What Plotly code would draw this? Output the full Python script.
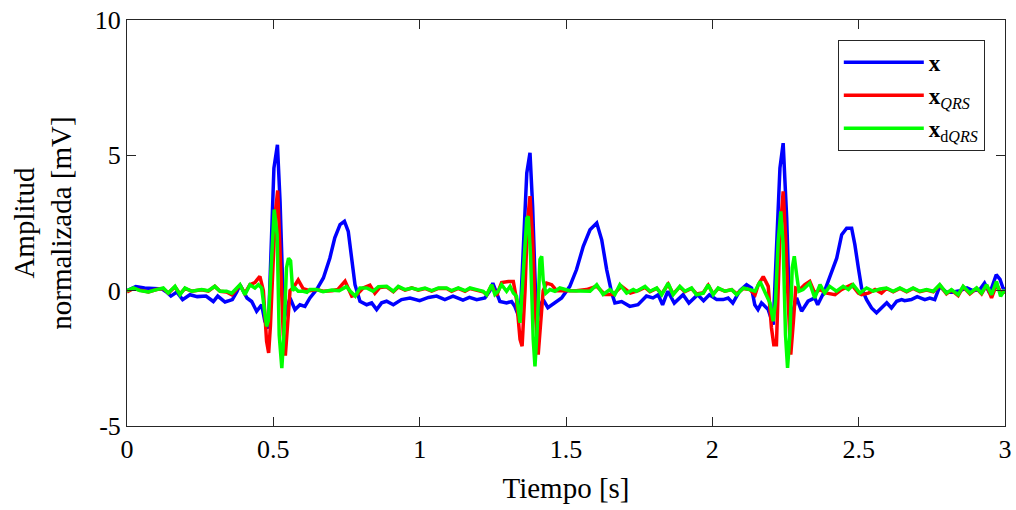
import plotly.graph_objects as go

# señales: (tiempo [s], amplitud [mV])
x_pts = [
    (0.00, 0.00), (0.03, 0.15), (0.06, 0.10), (0.09, 0.08), (0.12, 0.06), (0.135, -0.05),
    (0.15, -0.20), (0.17, -0.05), (0.19, -0.33), (0.215, -0.15), (0.24, -0.22), (0.27, -0.20),
    (0.295, -0.40), (0.31, -0.20), (0.335, -0.42), (0.36, -0.33), (0.375, -0.05), (0.386, 0.22),
    (0.40, -0.05), (0.41, -0.27), (0.426, -0.40), (0.443, -0.76), (0.46, -0.52), (0.471, -1.13),
    (0.483, -1.40), (0.494, 2.07), (0.502, 4.53), (0.514, 5.39), (0.523, 3.30), (0.532, 0.22),
    (0.538, -1.00), (0.548, -0.60), (0.557, -0.27), (0.574, -0.70), (0.591, -0.52), (0.608, -0.58),
    (0.625, -0.27), (0.648, 0.04), (0.671, 0.47), (0.693, 1.20), (0.71, 1.95), (0.728, 2.44),
    (0.743, 2.56), (0.756, 2.19), (0.768, 1.08), (0.779, 0.22), (0.796, -0.39), (0.819, -0.52),
    (0.836, -0.45), (0.853, -0.70), (0.87, -0.45), (0.887, -0.39), (0.91, -0.52), (0.927, -0.39),
    (0.938, -0.33), (0.967, -0.27), (1.00, -0.37), (1.03, -0.25), (1.058, -0.20), (1.086, -0.33),
    (1.114, -0.20), (1.148, -0.35), (1.17, -0.25), (1.195, -0.33), (1.223, -0.27), (1.24, 0.00),
    (1.25, 0.28), (1.274, -0.40), (1.297, -0.45), (1.314, -0.40), (1.325, -0.58), (1.343, -1.07),
    (1.355, 1.50), (1.366, 4.35), (1.377, 5.09), (1.386, 3.10), (1.394, 0.50), (1.40, -1.20),
    (1.41, -0.60), (1.422, -0.33), (1.438, -0.63), (1.462, -0.45), (1.485, -0.27), (1.513, 0.16),
    (1.536, 0.78), (1.559, 1.64), (1.582, 2.25), (1.605, 2.50), (1.622, 1.88), (1.639, 0.78),
    (1.656, -0.08), (1.667, -0.45), (1.69, -0.40), (1.718, -0.58), (1.746, -0.52), (1.775, -0.20),
    (1.797, -0.27), (1.815, -0.15), (1.83, -0.52), (1.848, -0.02), (1.87, -0.46), (1.90, -0.15),
    (1.92, -0.46), (1.95, -0.15), (1.97, -0.37), (1.99, -0.15), (2.015, -0.33), (2.037, -0.33),
    (2.054, -0.27), (2.07, -0.46), (2.094, 0.00), (2.117, 0.22), (2.134, 0.10), (2.145, -0.52),
    (2.156, -0.70), (2.168, -0.45), (2.191, -0.70), (2.208, -1.26), (2.22, 1.60), (2.231, 4.53),
    (2.242, 5.45), (2.254, 2.70), (2.265, -1.13), (2.288, -0.27), (2.305, -0.76), (2.327, -0.39),
    (2.35, -0.27), (2.36, -0.52), (2.384, 0.00), (2.407, 0.71), (2.425, 1.20), (2.442, 2.07),
    (2.459, 2.31), (2.476, 2.31), (2.487, 1.70), (2.499, 0.84), (2.51, 0.10), (2.527, -0.33),
    (2.544, -0.64), (2.561, -0.82), (2.578, -0.64), (2.596, -0.45), (2.612, -0.64), (2.63, -0.39),
    (2.647, -0.33), (2.657, -0.37), (2.68, -0.33), (2.70, -0.22), (2.726, -0.33), (2.743, -0.27),
    (2.76, -0.33), (2.777, 0.16), (2.80, -0.06), (2.82, -0.06), (2.846, 0.00), (2.87, 0.10),
    (2.89, 0.00), (2.914, 0.04), (2.93, 0.28), (2.948, -0.10), (2.97, 0.59), (2.983, 0.42),
    (2.993, 0.10), (3.00, 0.05),
]

xqrs_pts = [
    (0.00, -0.05), (0.022, 0.08), (0.044, 0.02), (0.073, -0.05), (0.101, 0.04), (0.124, 0.08),
    (0.141, -0.09), (0.164, 0.14), (0.181, -0.12), (0.198, 0.08), (0.221, -0.02), (0.255, 0.03),
    (0.278, -0.02), (0.30, 0.16), (0.318, -0.02), (0.34, -0.05), (0.358, -0.15), (0.375, 0.06),
    (0.386, 0.20), (0.403, -0.10), (0.42, 0.22), (0.437, 0.30), (0.454, 0.53), (0.466, 0.00),
    (0.477, -1.87), (0.484, -2.30), (0.49, -1.30), (0.50, 1.20), (0.508, 3.00), (0.515, 3.70),
    (0.525, 0.84), (0.534, -1.63), (0.541, -2.40), (0.548, -1.37), (0.557, 0.00), (0.568, 0.10),
    (0.585, 0.40), (0.602, 0.07), (0.625, 0.00), (0.648, 0.04), (0.67, -0.02), (0.70, 0.00),
    (0.72, 0.04), (0.745, 0.35), (0.768, -0.20), (0.785, -0.15), (0.807, 0.10), (0.83, 0.20),
    (0.847, -0.10), (0.864, 0.12), (0.887, 0.14), (0.91, -0.04), (0.927, 0.14), (0.95, 0.02),
    (0.973, 0.10), (0.995, 0.02), (1.018, 0.08), (1.041, -0.02), (1.064, 0.08), (1.092, 0.08),
    (1.109, -0.02), (1.132, 0.08), (1.155, -0.02), (1.172, 0.08), (1.195, 0.02), (1.217, -0.04),
    (1.229, -0.15), (1.246, 0.20), (1.263, -0.18), (1.28, 0.30), (1.303, 0.34), (1.32, 0.34),
    (1.331, -0.33), (1.343, -1.80), (1.35, -2.05), (1.36, 0.00), (1.368, 2.50), (1.377, 3.49),
    (1.386, 1.88), (1.394, -0.58), (1.405, -2.36), (1.413, -1.19), (1.422, 0.00), (1.434, 0.28),
    (1.451, 0.22), (1.468, 0.00), (1.50, 0.00), (1.535, 0.00), (1.57, 0.04), (1.605, 0.16),
    (1.633, -0.14), (1.661, -0.14), (1.69, 0.16), (1.72, -0.09), (1.747, 0.00), (1.77, 0.12),
    (1.787, -0.04), (1.81, 0.08), (1.827, -0.12), (1.849, 0.24), (1.866, -0.12), (1.889, 0.14),
    (1.906, -0.04), (1.929, 0.08), (1.946, -0.12), (1.969, -0.08), (1.986, 0.20), (2.003, -0.12),
    (2.02, 0.08), (2.043, -0.02), (2.066, 0.04), (2.083, -0.12), (2.106, 0.08), (2.128, 0.04),
    (2.146, -0.15), (2.157, 0.22), (2.174, 0.52), (2.191, 0.16), (2.202, -1.37), (2.21, -2.00),
    (2.219, -2.00), (2.231, 2.07), (2.242, 3.67), (2.25, 2.07), (2.259, -0.39), (2.268, -2.36),
    (2.277, -1.13), (2.285, 0.10), (2.299, 0.04), (2.316, 0.22), (2.333, 0.34), (2.35, -0.09),
    (2.368, 0.04), (2.391, -0.09), (2.419, -0.15), (2.441, 0.04), (2.476, 0.22), (2.499, -0.09),
    (2.51, -0.15), (2.533, -0.09), (2.556, 0.04), (2.578, -0.09), (2.595, 0.08), (2.618, -0.04),
    (2.641, 0.08), (2.664, -0.04), (2.686, 0.08), (2.709, -0.04), (2.732, 0.02), (2.755, -0.04),
    (2.777, 0.20), (2.80, -0.12), (2.817, 0.02), (2.84, -0.18), (2.857, 0.14), (2.88, -0.12),
    (2.903, 0.08), (2.92, -0.12), (2.937, 0.20), (2.954, -0.27), (2.971, 0.22), (2.988, -0.09),
    (3.00, -0.05),
]

xdqrs_pts = [
    (0.00, 0.00), (0.022, 0.10), (0.044, 0.00), (0.073, -0.05), (0.101, 0.04), (0.124, 0.10),
    (0.141, -0.09), (0.164, 0.16), (0.181, -0.15), (0.198, 0.10), (0.221, -0.02), (0.255, 0.04),
    (0.278, 0.00), (0.30, 0.16), (0.318, -0.02), (0.34, -0.02), (0.358, -0.09), (0.375, 0.10),
    (0.386, 0.22), (0.403, -0.15), (0.42, 0.22), (0.437, 0.10), (0.449, 0.22), (0.46, 0.10),
    (0.466, -0.40), (0.477, -1.32), (0.483, -1.10), (0.494, 1.45), (0.503, 3.00), (0.513, 2.07),
    (0.52, -1.63), (0.529, -2.86), (0.536, -1.63), (0.545, 0.84), (0.552, 1.20), (0.559, 1.10),
    (0.566, 0.00), (0.574, 0.10), (0.585, -0.02), (0.602, -0.02), (0.615, -0.06), (0.625, 0.04),
    (0.648, 0.04), (0.67, -0.04), (0.70, 0.02), (0.725, 0.00), (0.75, 0.15), (0.763, -0.02),
    (0.78, -0.20), (0.796, 0.10), (0.819, 0.10), (0.841, -0.02), (0.859, 0.15), (0.887, 0.16),
    (0.91, -0.02), (0.927, 0.16), (0.95, 0.04), (0.973, 0.10), (0.995, 0.04), (1.018, 0.10),
    (1.041, 0.00), (1.064, 0.10), (1.092, 0.10), (1.109, 0.00), (1.132, 0.10), (1.155, 0.00),
    (1.172, 0.10), (1.195, 0.04), (1.217, -0.02), (1.229, -0.15), (1.246, 0.22), (1.257, -0.14),
    (1.268, -0.02), (1.28, 0.22), (1.297, -0.02), (1.309, 0.16), (1.32, -0.09), (1.331, -0.21),
    (1.343, -1.19), (1.354, 0.65), (1.366, 2.68), (1.371, 2.75), (1.379, 1.27), (1.388, -1.80),
    (1.394, -2.80), (1.402, -1.32), (1.411, 1.15), (1.417, 1.27), (1.422, 0.40), (1.431, -0.09),
    (1.445, 0.04), (1.462, -0.02), (1.479, 0.10), (1.513, 0.00), (1.547, 0.00), (1.582, -0.02),
    (1.605, 0.22), (1.627, -0.14), (1.65, 0.04), (1.667, -0.14), (1.684, 0.22), (1.707, -0.09),
    (1.73, 0.04), (1.741, -0.02), (1.77, 0.16), (1.787, -0.02), (1.81, 0.10), (1.827, -0.15),
    (1.849, 0.28), (1.866, -0.15), (1.889, 0.16), (1.906, -0.02), (1.929, 0.10), (1.946, -0.15),
    (1.969, -0.09), (1.986, 0.22), (2.003, -0.15), (2.02, 0.10), (2.043, -0.02), (2.066, 0.04),
    (2.083, -0.15), (2.106, 0.10), (2.128, 0.04), (2.146, -0.02), (2.163, 0.34), (2.18, -0.09),
    (2.197, -0.46), (2.208, -1.13), (2.216, -0.40), (2.225, 1.82), (2.234, 2.93), (2.242, 1.70),
    (2.25, -1.63), (2.257, -2.85), (2.265, -1.63), (2.273, 0.84), (2.28, 1.27), (2.288, 0.59),
    (2.296, -0.02), (2.31, 0.04), (2.333, 0.28), (2.35, -0.27), (2.368, 0.22), (2.384, -0.09),
    (2.401, 0.16), (2.424, -0.02), (2.447, 0.16), (2.465, 0.04), (2.481, 0.22), (2.504, -0.09),
    (2.527, 0.10), (2.55, -0.02), (2.573, 0.06), (2.595, 0.10), (2.618, -0.02), (2.641, 0.10),
    (2.664, -0.02), (2.686, 0.10), (2.709, -0.02), (2.732, 0.04), (2.755, -0.02), (2.777, 0.22),
    (2.80, -0.09), (2.817, 0.04), (2.84, -0.15), (2.857, 0.16), (2.88, -0.09), (2.903, 0.10),
    (2.92, -0.09), (2.937, 0.22), (2.954, -0.15), (2.971, 0.34), (2.985, -0.21), (2.996, -0.02),
    (3.00, -0.05),
]

x_ticks = [0, 0.5, 1, 1.5, 2, 2.5, 3]
x_ticktext = ["0", "0.5", "1", "1.5", "2", "2.5", "3"]
y_ticks = [-5, 0, 5, 10]
y_ticktext = ["-5", "0", "5", "10"]

series = [
    ("<b>x</b>", x_pts, "#0000ff"),
    ("<b>x</b><sub><i>QRS</i></sub>", xqrs_pts, "#ff0000"),
    ("<b>x</b><sub>d<i>QRS</i></sub>", xdqrs_pts, "#00ff00"),
]

FONT = "Liberation Serif"

fig = go.Figure()
for name, pts, color in series:
    fig.add_trace(go.Scatter(
        x=[p[0] for p in pts], y=[p[1] for p in pts], mode="lines", name=name,
        line=dict(color=color, width=3.5),
    ))

axis_style = dict(
    showline=True, linecolor="#262626", linewidth=1, mirror="ticks",
    ticks="inside", ticklen=9, tickcolor="#262626", showgrid=False, zeroline=False,
    automargin=False, ticklabeloverflow="allow",
    tickfont=dict(family=FONT, size=26, color="black"),
)

fig.update_layout(
    width=1016, height=510,
    margin=dict(l=127, r=11, t=20, b=84),
    paper_bgcolor="white", plot_bgcolor="white",
    showlegend=True,
    legend=dict(
        x=0.977, y=0.951, xanchor="right", yanchor="top",
        bgcolor="white", bordercolor="#262626", borderwidth=1,
        font=dict(family=FONT, size=23, color="black"),
        itemwidth=80, tracegroupgap=0,
    ),
    xaxis=dict(range=[0, 3], tickvals=x_ticks, ticktext=x_ticktext,
               title=dict(text="Tiempo [s]", font=dict(family=FONT, size=29, color="black"), standoff=14),
               **axis_style),
    yaxis=dict(range=[-5, 10], tickvals=y_ticks, ticktext=y_ticktext, **axis_style),
    annotations=[dict(
        text="Amplitud<br>normalizada [mV]", textangle=-90,
        xref="paper", yref="paper", x=-0.096, y=0.5, xanchor="center", yanchor="middle",
        showarrow=False, font=dict(family=FONT, size=29, color="black"),
    )],
)

# quitar el margen del body para que la figura empiece en (0, 0)
fig.write_html("out.html", config={"displayModeBar": False},
               post_script="document.body.style.margin = '0px';")
